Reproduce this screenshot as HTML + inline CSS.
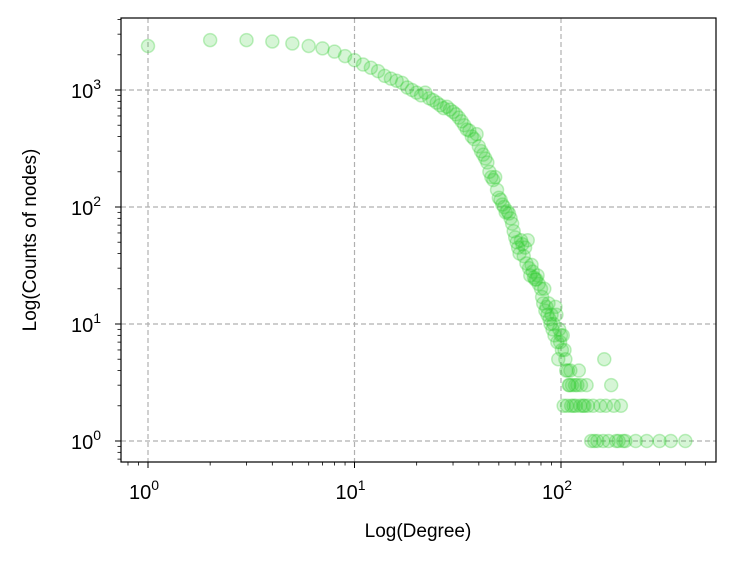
<!DOCTYPE html>
<html><head><meta charset="utf-8"><style>
html,body{margin:0;padding:0;background:#fff;}
svg text{font-family:"Liberation Sans","DejaVu Sans",sans-serif;fill:#000;}
</style></head><body>
<svg id="chart" width="735" height="565" xmlns="http://www.w3.org/2000/svg">
<rect x="0" y="0" width="735" height="565" fill="#fff"/>
<g id="grid"></g>
<g id="points"></g>
<rect x="121" y="18" width="595" height="444" fill="none" stroke="#000" stroke-width="1.2"/>
<g id="ticks"></g>
<text x="418" y="537" font-size="19" text-anchor="middle">Log(Degree)</text>
<text transform="translate(36,240) rotate(-90)" font-size="19" text-anchor="middle">Log(Counts of nodes)</text>
</svg>
<script>
const degrees = [1,2,3,4,5,6,7,8,9,10,11,12,13,14,15,16,17,18,19,20,21,22,23,24,25,26,27,28,29,30,31,32,33,34,35,36,37,38,39,40,41,42,43,44,45,46,47,48,49,50,51,52,53,54,55,56,57,58,59,60,61,62,63,64,65,66,67,68,69,70,71,72,73,74,75,76,77,78,80,81,82,83,84,85,86,87,88,89,90,91,92,93,94,95,96,97,98,99,100,101,102,103,104,105,106,107,108,109,110,111,112,113,115,117,118,120,122,124,125,128,130,133,135,140,143,145,150,155,160,162,165,170,175,180,185,190,195,200,205,230,260,300,340,400];
const counts = [2377,2670,2670,2600,2500,2380,2270,2130,1950,1800,1650,1550,1450,1320,1250,1200,1150,1050,1000,950,900,950,850,820,780,740,700,720,680,650,620,580,540,500,460,450,400,380,420,330,300,280,260,240,200,180,170,180,140,120,115,105,100,90,92,88,80,72,62,55,50,45,40,52,48,38,45,33,52,30,26,32,28,25,24,24,26,22,20,17,15,20,13,14,12,15,11,10,12,9,10,8,14,12,7,5,9,7,8,6,8,2,6,5,4,2,4,3,3,4,2,3,2,3,2,3,4,2,3,2,2,3,2,1,2,1,1,2,1,5,2,1,3,2,1,1,2,1,1,1,1,1,1,1];
const xDecades = [0,1,2];
const yDecades = [0,1,2,3];
const NS='http://www.w3.org/2000/svg';
const L=121,R=716,T=18,B=462;
function xs(v){return 148+206.5*Math.log10(v);}
function ys(v){return 441-117*Math.log10(v);}
function mk(tag,attrs,parent){const e=document.createElementNS(NS,tag);for(const k in attrs)e.setAttribute(k,attrs[k]);parent.appendChild(e);return e;}
const grid=document.getElementById('grid'),ticks=document.getElementById('ticks'),pts=document.getElementById('points');
xDecades.forEach(d=>{
  const x=xs(Math.pow(10,d));
  const g=mk('line',{x1:x,x2:x,y1:T,y2:B,stroke:'#b0b0b0','stroke-width':1.2,'stroke-dasharray':'5,3'},grid);
  
  
  mk('line',{x1:x,x2:x,y1:B,y2:B+6,stroke:'#000','stroke-width':1},ticks);
  const t=mk('text',{x:x-4,y:B+37,'font-size':20,'text-anchor':'middle'},ticks);
  
  
  t.innerHTML='10<tspan dy="-9" font-size="14">'+d+'</tspan>';
});
for(let d=-1;d<=2;d++)for(let m=2;m<=9;m++){const v=m*Math.pow(10,d);const x=xs(v);if(x>L&&x<R)mk('line',{x1:x,x2:x,y1:B,y2:B+3.5,stroke:'#000','stroke-width':0.8},ticks);}
yDecades.forEach(d=>{
  const y=ys(Math.pow(10,d));
  const g=mk('line',{x1:L,x2:R,y1:y,y2:y,stroke:'#b0b0b0','stroke-width':1.2,'stroke-dasharray':'5,3'},grid);
  
  
  mk('line',{x1:L-6,x2:L,y1:y,y2:y,stroke:'#000','stroke-width':1},ticks);
  const t=mk('text',{x:L-20,y:y+8,'font-size':20,'text-anchor':'end'},ticks);
  
  
  t.innerHTML='10<tspan dy="-9" font-size="14">'+d+'</tspan>';
});
for(let d=-1;d<=3;d++)for(let m=2;m<=9;m++){const v=m*Math.pow(10,d);const y=ys(v);if(y>T&&y<B)mk('line',{x1:L-3.5,x2:L,y1:y,y2:y,stroke:'#000','stroke-width':0.8},ticks);}
degrees.forEach((d,i)=>{
  const c=mk('circle',{cx:xs(d),cy:ys(counts[i]),r:6.5,fill:'rgba(50,205,50,0.2)',stroke:'rgba(50,205,50,0.3)','stroke-width':1.5},pts);
  
  
});
</script>
</body></html>
